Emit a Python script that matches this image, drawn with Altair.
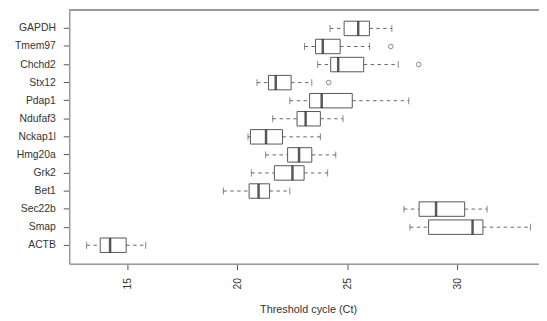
import altair as alt
import pandas as pd

genes = ["GAPDH", "Tmem97", "Chchd2", "Stx12", "Pdap1", "Ndufaf3", "Nckap1l",
         "Hmg20a", "Grk2", "Bet1", "Sec22b", "Smap", "ACTB"]
whisker_low = [24.22, 23.06, 23.66, 20.90, 22.39, 21.61, 20.49, 21.29, 20.64, 19.37, 27.58, 27.85, 13.15]
q1 = [24.86, 23.56, 24.25, 21.42, 23.29, 22.72, 20.60, 22.29, 21.69, 20.54, 28.27, 28.70, 13.77]
median = [25.50, 23.89, 24.59, 21.75, 23.84, 23.11, 21.31, 22.81, 22.51, 20.97, 29.04, 30.70, 14.22]
q3 = [26.01, 24.68, 25.75, 22.45, 25.23, 23.78, 22.06, 23.39, 23.04, 21.47, 30.34, 31.17, 14.95]
whisker_high = [27.03, 26.02, 27.32, 23.39, 27.80, 24.81, 23.78, 24.48, 24.11, 22.39, 31.36, 33.33, 15.84]
outlier_genes = ["Tmem97", "Chchd2", "Stx12"]
outlier_values = [26.98, 28.25, 24.16]
x_ticks = [15, 20, 25, 30]

df = pd.DataFrame({"gene": genes, "lo": whisker_low, "q1": q1, "med": median,
                   "q3": q3, "hi": whisker_high})
out = pd.DataFrame({"gene": outlier_genes, "v": outlier_values})

FONT = "Liberation Sans"
FRAME = "#9a9a9a"

xscale = alt.Scale(domain=[12.36, 33.72], nice=False, zero=False)
yscale = alt.Scale(domain=genes, paddingInner=0.2, paddingOuter=0.62)

yenc = alt.Y("gene:N", sort=genes, scale=yscale,
             axis=alt.Axis(title=None, tickSize=6, labelPadding=8, labelFontSize=10.5,
                           labelFont=FONT, labelColor="#333333", tickColor="#555555",
                           domainColor=FRAME, domainWidth=1.5, labelAlign="right"))

xaxis = alt.Axis(values=x_ticks, labelAngle=270, tickSize=6, labelPadding=8,
                 labelFontSize=10.5, labelFont=FONT, labelColor="#333333",
                 tickColor="#555555", domainColor=FRAME, domainWidth=1.5, grid=False,
                 title="Threshold cycle (Ct)", titleFont=FONT, titleFontSize=11,
                 titleFontWeight="normal", titleColor="#333333",
                 titleX=242, titleY=41, titleAlign="center", titleBaseline="top")

base = alt.Chart(df)

wl = base.mark_rule(color="#666666", strokeDash=[3.5, 3.5], strokeWidth=1).encode(
    x=alt.X("lo:Q", scale=xscale, axis=xaxis), x2="q1:Q", y=yenc)
wh = base.mark_rule(color="#666666", strokeDash=[3.5, 3.5], strokeWidth=1).encode(
    x=alt.X("q3:Q", scale=xscale), x2="hi:Q", y=yenc)
cap_lo = base.mark_tick(color="#555555", size=7, thickness=1).encode(
    x=alt.X("lo:Q", scale=xscale), y=yenc)
cap_hi = base.mark_tick(color="#555555", size=7, thickness=1).encode(
    x=alt.X("hi:Q", scale=xscale), y=yenc)
box = base.mark_bar(fill="white", stroke="#555555", strokeWidth=1).encode(
    x=alt.X("q1:Q", scale=xscale), x2="q3:Q", y=yenc)
med = base.mark_tick(color="#111111", size=14.6, thickness=2.5).encode(
    x=alt.X("med:Q", scale=xscale), y=yenc)
pts = alt.Chart(out).mark_point(shape="circle", filled=False, color="#555555",
                                size=22, strokeWidth=1).encode(
    x=alt.X("v:Q", scale=xscale), y=alt.Y("gene:N", sort=genes, scale=yscale))
top = alt.Chart(out).mark_rule(color=FRAME, strokeWidth=1.5).encode(
    x=alt.value(0), x2=alt.value(476), y=alt.value(0))

chart = alt.layer(wl, wh, cap_lo, cap_hi, box, med, pts, top).properties(
    width=476, height=257, autosize=alt.AutoSizeParams(type="none"),
    padding={"left": 62, "top": 0, "right": 0, "bottom": 50}
).configure_view(stroke=None).configure(background="white")

chart.save("out.html", embed_options={"renderer": "svg", "actions": False})
